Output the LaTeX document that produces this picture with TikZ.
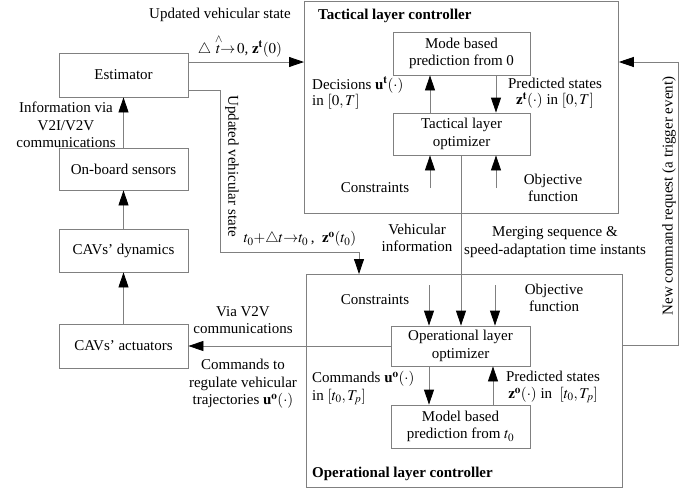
\documentclass[tikz,border=0pt]{standalone}
\usepackage{mathptmx}
\usepackage{fontspec}
\setmainfont{Liberation Serif}
\usetikzlibrary{arrows.meta}
\definecolor{lg}{RGB}{128,128,128}
\begin{document}
\begin{tikzpicture}[x=1pt,y=-1pt,
  every node/.style={font=\fontsize{15}{17.5}\selectfont, inner sep=0pt},
  ln/.style={draw=lg, line width=0.8pt},
  arr/.style={ln, -{Triangle[length=15pt,width=10pt,color=black]}},
  box/.style={draw=lg, line width=0.8pt, align=center},
  lbl/.style={align=center},
  ttl/.style={font=\fontsize{15}{17.5}\selectfont\bfseries, anchor=west},
]
\useasboundingbox (0,0) rectangle (697,491);

% outer controllers
\node[box, minimum width=314pt, minimum height=212pt, anchor=north west] (tac) at (304,1) {};
\node[box, minimum width=316pt, minimum height=213pt, anchor=north west] (op) at (306,274) {};

% left column
\node[box, minimum width=129pt, minimum height=44pt] (est) at (123.5,75) {Estimator};
\node[box, minimum width=129pt, minimum height=42pt] (sens) at (123.5,169) {On-board sensors};
\node[box, minimum width=129pt, minimum height=43pt] (dyn) at (123.5,250.5) {CAVs’ dynamics};
\node[box, minimum width=129pt, minimum height=44pt] (act) at (123.5,346) {CAVs’ actuators};

% tactical inner
\node[box, minimum width=137pt, minimum height=43pt] (mode) at (461.5,53.5) {Mode based\\prediction from 0};
\node[box, minimum width=137pt, minimum height=42pt] (topt) at (461.5,134) {Tactical layer\\optimizer};

% operational inner
\node[box, minimum width=139pt, minimum height=40pt] (oopt) at (460.5,346) {Operational layer\\optimizer};
\node[box, minimum width=139pt, minimum height=43pt] (model) at (460.5,426.5) {Model based\\prediction from $t_0$};

% titles
\node[ttl] (ttac) at (318,16) {Tactical layer controller};
\node[ttl] (top) at (312,474) {Operational layer controller};

% connectors
\draw[arr] (est.east |- 0,62) -- (tac.west |- 0,62);
\draw[arr] (est.east |- 0,90) -- (220,90) -- (220,252) -- (359,252) -- (op.north -| 359,0);
\draw[arr] (sens.north) -- (est.south);
\draw[arr] (dyn.north) -- (sens.south);
\draw[arr] (act.north) -- (dyn.south);
\draw[arr] (oopt.west) -- (act.east);

\draw[arr] (topt.north -| 430,0) -- (mode.south -| 430,0);
\draw[arr] (mode.south -| 496,0) -- (topt.north -| 496,0);
\coordinate (tc1) at (430,188);
\coordinate (tc2) at (496,188);
\draw[arr] (tc1) -- (topt.south -| tc1);
\draw[arr] (tc2) -- (topt.south -| tc2);
\draw[arr] (topt.south -| 461,0) -- (oopt.north -| 461,0);

\coordinate (oc1) at (429,285);
\coordinate (oc2) at (495,285);
\draw[arr] (oc1) -- (oopt.north -| oc1);
\draw[arr] (oc2) -- (oopt.north -| oc2);
\draw[arr] (oopt.south -| 429,0) -- (model.north -| 429,0);
\draw[arr] (model.north -| 493,0) -- (oopt.south -| 493,0);

\draw[arr] (op.east |- 0,345) -- (678,345) -- (678,62) -- (tac.east |- 0,62);

% labels
\node[lbl] (l1) at (220,15) {Updated vehicular state};
\node[lbl] (l2) at (240,46) {$\triangle\stackrel{\wedge}{t}\!\rightarrow\!0$, $\mathbf{z}^{\mathbf{t}}(0)$};
\node[lbl, rotate=-90] (l3) at (232,166) {Updated vehicular state};
\node[lbl] (l4) at (300,239) {$t_0{+}\triangle t{\rightarrow}t_0$\,,\ \ $\mathbf{z}^{\mathbf{o}}(t_0)$};
\node[lbl] (l5) at (66,125) {Information via\\V2I/V2V\\communications};
\node[lbl] (l6) at (243,320) {Via V2V\\communications};
\node[lbl] (l7) at (243,384) {Commands to\\regulate vehicular\\trajectories $\mathbf{u}^{\mathbf{o}}(\cdot)$};

\node[lbl, anchor=west, align=left, font=\fontsize{15}{16}\selectfont] (l8) at (312,93) {Decisions $\mathbf{u}^{\mathbf{t}}(\cdot)$\\in $[0,T]$};
\node[lbl, font=\fontsize{15}{16.5}\selectfont] (l9) at (555,93) {Predicted states\\$\mathbf{z}^{\mathbf{t}}(\cdot)$ in $[0,T]$};
\node[lbl] (l10) at (375,188) {Constraints};
\node[lbl] (l11) at (553,188) {Objective\\function};

\node[lbl] (l12) at (417,238) {Vehicular\\information};
\node[lbl] (l13) at (555,242) {Merging sequence \&\\speed-adaptation time instants};
\node[lbl] (l14) at (375,300) {Constraints};
\node[lbl] (l15) at (554,298) {Objective\\function};

\node[lbl, anchor=west, align=left] (l16) at (312,388) {Commands $\mathbf{u}^{\mathbf{o}}(\cdot)$\\in $[t_0,T_p]$};
\node[lbl] (l17) at (553,387) {Predicted states\\$\mathbf{z}^{\mathbf{o}}(\cdot)$ in\ \ $[t_0,T_p]$};

\node[lbl, rotate=90] (l18) at (669,196) {New command request (a trigger event)};
\end{tikzpicture}
\end{document}
